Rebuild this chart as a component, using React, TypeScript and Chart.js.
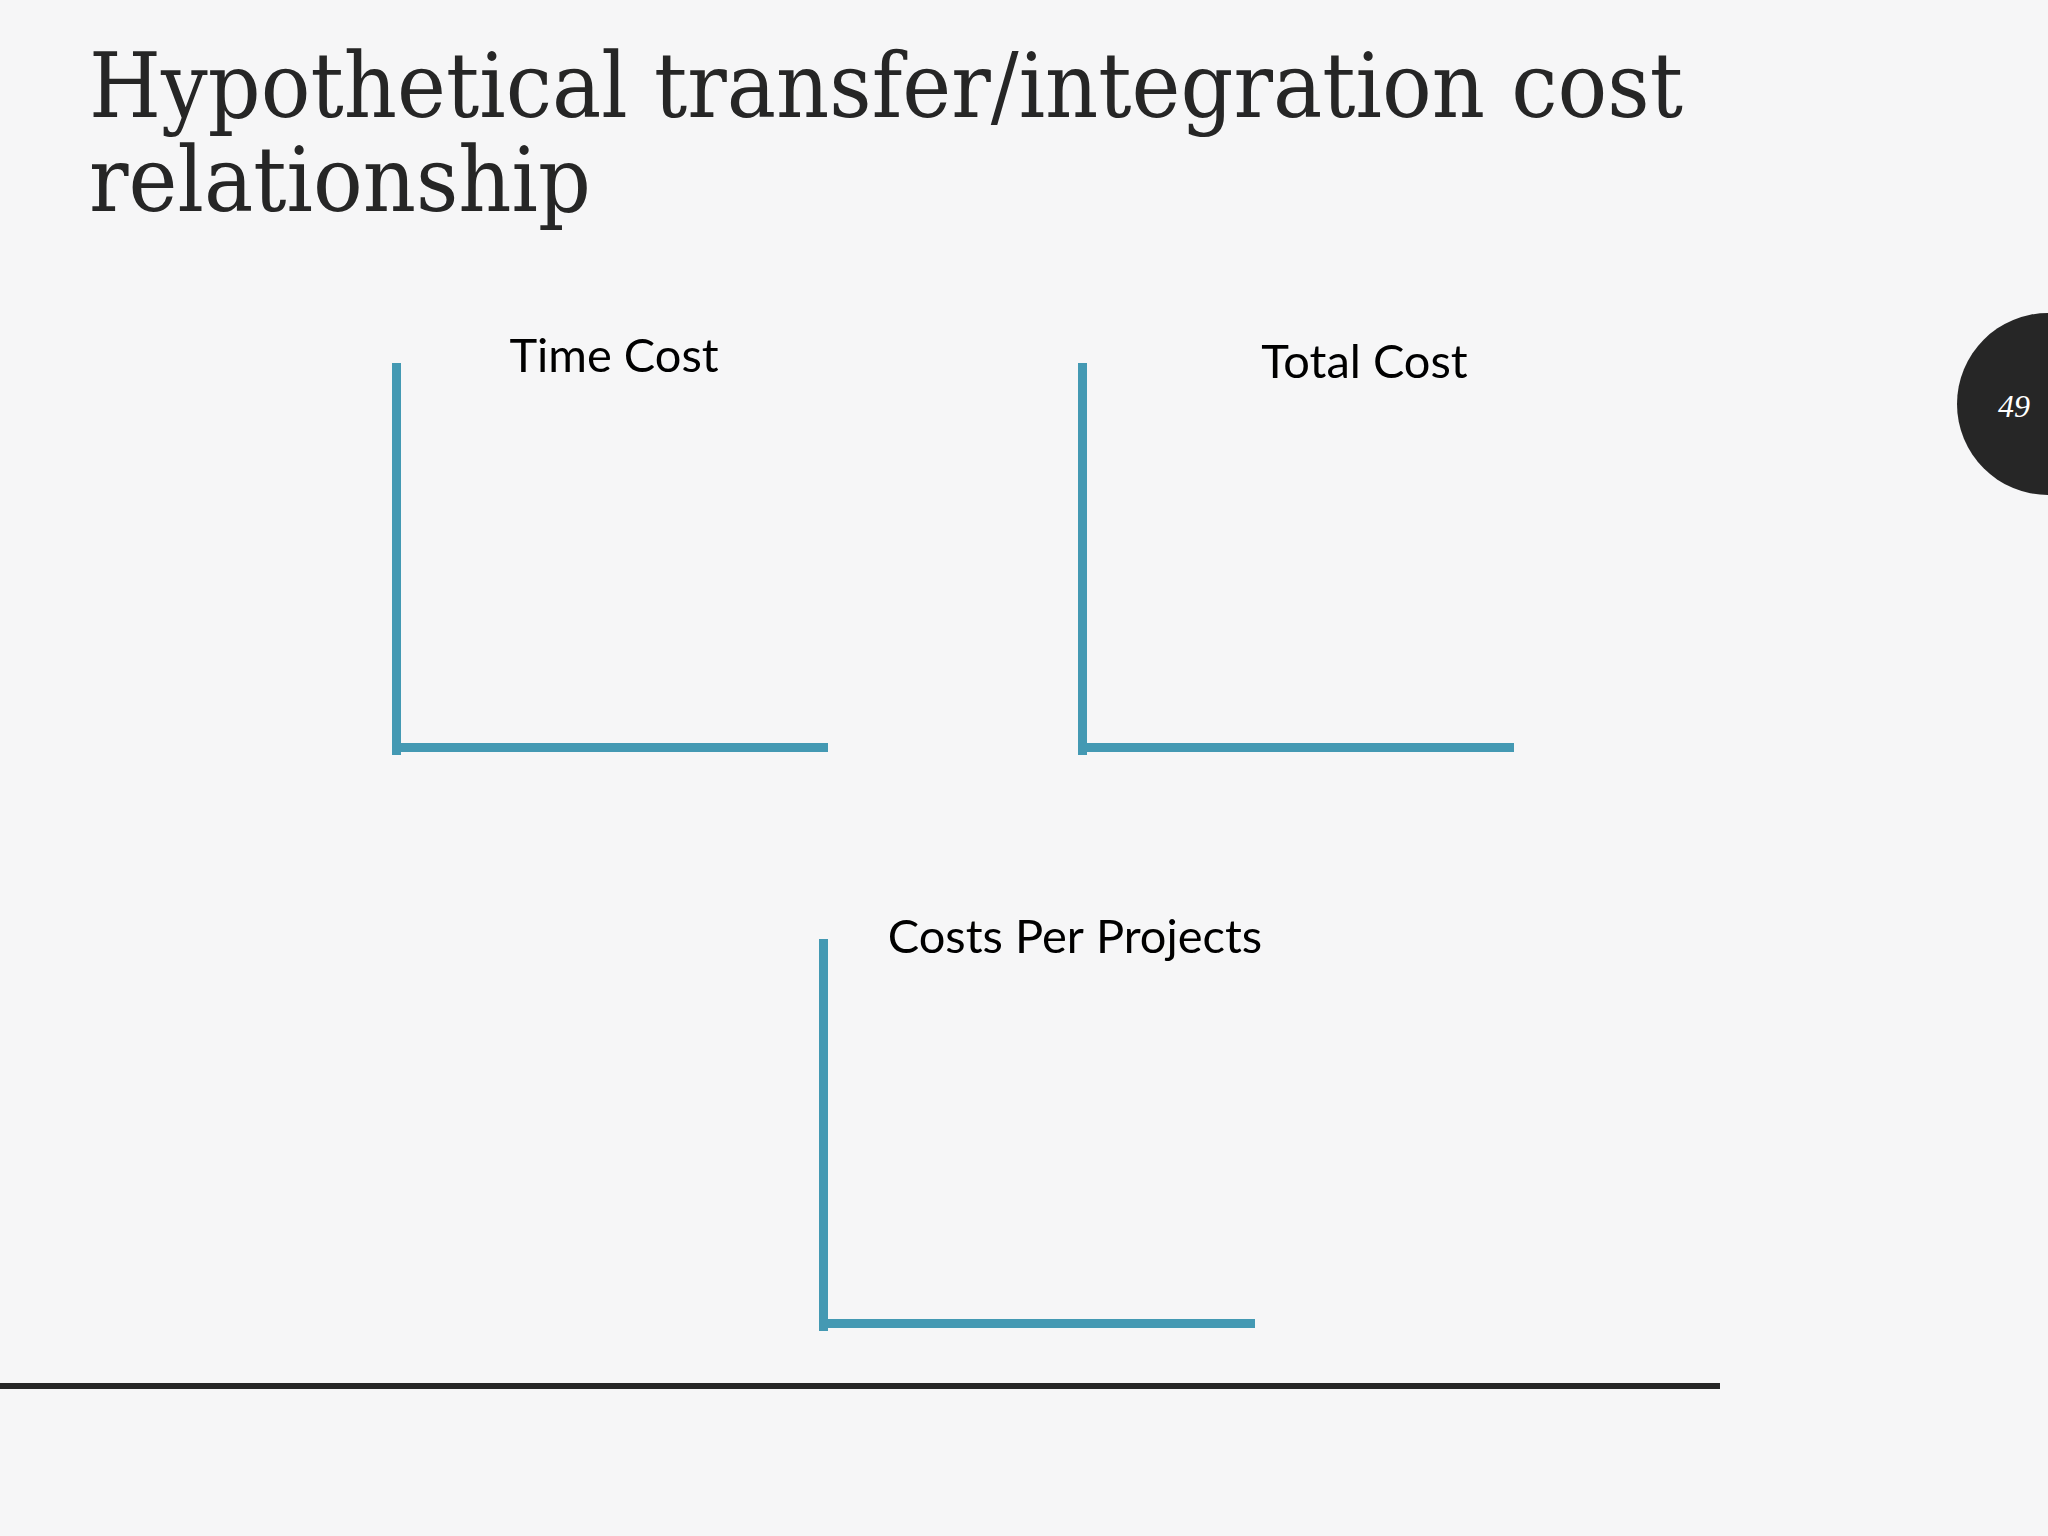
import React, { useEffect, useRef } from "react";
import { Chart, registerables } from "chart.js";

Chart.register(...registerables);

// ---- Data (the slide shows empty, hypothetical axes: no plotted values) ----
const slideTitleLines: string[] = ["Hypothetical transfer/integration cost", "relationship"];
const pageNumber = "49";
const panelTitles: string[] = ["Time Cost", "Total Cost", "Costs Per Projects"];
const timeCostValues: number[] = [];
const totalCostValues: number[] = [];
const costsPerProjectValues: number[] = [];
const xCategories: string[] = [];

const AXIS_COLOR = "#4499b3";
const TEXT_DARK = "#262626";
const BG = "#f6f6f7";

const TITLE_FONT_SIZE = 89;
const TITLE_FONT_FAMILY = "'DejaVu Serif', 'Liberation Serif', serif";
const TITLE_TARGET_WIDTH = 1594;

function titleScaleX(): number {
  try {
    const ctx = document.createElement("canvas").getContext("2d");
    if (!ctx) return 1;
    ctx.font = `${TITLE_FONT_SIZE}px ${TITLE_FONT_FAMILY}`;
    const w = ctx.measureText(slideTitleLines[0]).width;
    return w > 0 ? TITLE_TARGET_WIDTH / w : 1;
  } catch (e) {
    return 1;
  }
}

const panelTitlePlugin = {
  id: "panelTitle",
  afterDraw(chart: any, _args: any, opts: any) {
    if (!opts || !opts.text) return;
    const { ctx, chartArea } = chart;
    ctx.save();
    ctx.font = `${opts.size}px ${opts.family}`;
    ctx.fillStyle = opts.color;
    ctx.textAlign = "center";
    ctx.textBaseline = "alphabetic";
    ctx.fillText(opts.text, chartArea.left + opts.dx, chartArea.top + opts.dy);
    ctx.restore();
  },
};

type PanelProps = {
  title: string;
  values: number[];
  left: number;
  top: number;
  width: number;
  height: number;
  padding: { left: number; right: number; top: number; bottom: number };
  titleDx: number;
  titleDy: number;
};

function AxisPanel(p: PanelProps) {
  const ref = useRef<HTMLCanvasElement | null>(null);
  useEffect(() => {
    if (!ref.current) return;
    const chart = new Chart(ref.current, {
      type: "line",
      data: {
        labels: xCategories,
        datasets: [
          {
            label: p.title,
            data: p.values,
            borderColor: AXIS_COLOR,
            pointRadius: 0,
          },
        ],
      },
      options: {
        responsive: false,
        animation: false,
        layout: { padding: p.padding },
        plugins: {
          legend: { display: false },
          title: { display: false },
          tooltip: { enabled: false },
          panelTitle: {
            text: p.title,
            family: "Lato, 'Open Sans', sans-serif",
            size: 47,
            color: "#000000",
            dx: p.titleDx,
            dy: p.titleDy,
          },
        } as any,
        scales: {
          x: {
            display: true,
            ticks: { display: false },
            grid: { display: false, drawTicks: false, tickLength: 0, lineWidth: 1 },
            border: { display: true, color: AXIS_COLOR, width: 9 },
          },
          y: {
            display: true,
            min: 0,
            max: 1,
            ticks: { display: false },
            grid: { display: false, drawTicks: false, tickLength: 0, lineWidth: 15 },
            border: { display: true, color: AXIS_COLOR, width: 9 },
          },
        },
      },
      plugins: [panelTitlePlugin],
    });
    return () => chart.destroy();
  }, []);
  return (
    <canvas
      ref={ref}
      width={p.width}
      height={p.height}
      style={{ position: "absolute", left: p.left, top: p.top, width: p.width, height: p.height }}
    />
  );
}

export default function App() {
  useEffect(() => {
    document.body.style.margin = "0";
    document.body.style.overflow = "hidden";
  }, []);
  const sx = titleScaleX();
  return (
    <div
      style={{
        position: "relative",
        width: 2048,
        height: 1536,
        overflow: "hidden",
        background: BG,
      }}
    >
      <div
        style={{
          position: "absolute",
          left: 89,
          top: 39,
          fontFamily: TITLE_FONT_FAMILY,
          fontSize: TITLE_FONT_SIZE,
          lineHeight: "94px",
          color: TEXT_DARK,
          whiteSpace: "pre",
          transform: `scaleX(${sx})`,
          transformOrigin: "left top",
        }}
      >
        {slideTitleLines.join("\n")}
      </div>

      <div
        style={{
          position: "absolute",
          left: 1957,
          top: 313,
          width: 182,
          height: 182,
          borderRadius: "50%",
          background: TEXT_DARK,
        }}
      />
      <div
        style={{
          position: "absolute",
          left: 1964,
          top: 390,
          width: 100,
          textAlign: "center",
          fontFamily: "'Liberation Serif', serif",
          fontStyle: "italic",
          fontSize: 32,
          lineHeight: "32px",
          color: "#ffffff",
        }}
      >
        {pageNumber}
      </div>

      <AxisPanel
        title={panelTitles[0]}
        values={timeCostValues}
        left={340}
        top={300}
        width={540}
        height={500}
        padding={{ left: 56.5, right: 52.5, top: 67.5, bottom: 52.5 }}
        titleDx={217.5}
        titleDy={4.5}
      />
      <AxisPanel
        title={panelTitles[1]}
        values={totalCostValues}
        left={1030}
        top={300}
        width={540}
        height={500}
        padding={{ left: 52.5, right: 56.5, top: 67.5, bottom: 52.5 }}
        titleDx={282}
        titleDy={10.5}
      />
      <AxisPanel
        title={panelTitles[2]}
        values={costsPerProjectValues}
        left={770}
        top={880}
        width={540}
        height={500}
        padding={{ left: 53.5, right: 55.5, top: 63.5, bottom: 56.5 }}
        titleDx={251.5}
        titleDy={9.5}
      />

      <div
        style={{
          position: "absolute",
          left: 0,
          top: 1383,
          width: 1720,
          height: 6,
          background: TEXT_DARK,
        }}
      />
    </div>
  );
}
